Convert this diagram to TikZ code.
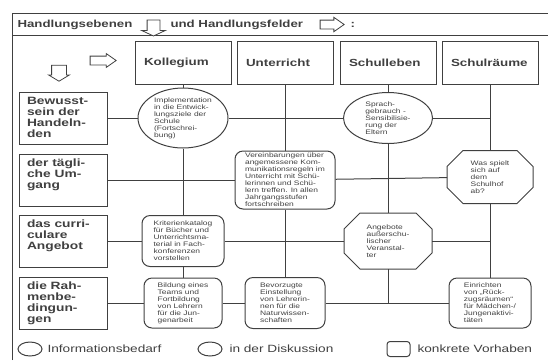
\documentclass[tikz,border=0pt]{standalone}
\usepackage{fontspec}
\setmainfont[FakeStretch=1.3]{Liberation Sans}
\usetikzlibrary{shapes.geometric,shapes.arrows}

\newcommand{\ebenentext}[1]{\parbox[c][42pt][t]{72pt}{#1}}

\begin{document}
\begin{tikzpicture} [x=1pt, y=-1pt, color=black!75, line width=1pt,
  every node/.style={inner sep=0pt},
  feld/.style={draw, minimum height=43pt, text width=78pt, inner xsep=9pt, align=left, font=\fontsize{10.3}{12}\selectfont\bfseries},
  ebene/.style={draw, inner xsep=8pt, inner ysep=5pt, font=\fontsize{10.6}{11}\selectfont\bfseries},
  info/.style={draw, ellipse, align=left, font=\fontsize{6.5}{7}\selectfont},
  disk/.style={rectangle, align=left, font=\fontsize{6.5}{7}\selectfont},
  vorhaben/.style={draw, rounded corners=8pt, align=left, font=\fontsize{6.5}{7}\selectfont},
  pfeil/.style={draw, single arrow, fill=white, line width=0.8pt, inner xsep=0pt},
  legende/.style={anchor=west, font=\fontsize{10.5}{12}\selectfont}]
\useasboundingbox (0,0) rectangle (548,360);

% Rahmen
\draw (12,360) -- (12,13) -- (548,13);
\draw (12,35) -- (548,35);

\node[anchor=west, font=\fontsize{10.2}{12}\selectfont\bfseries] (titel1) at (17,25) {Handlungsebenen};
\node[pfeil, rotate=-90, minimum height=16pt, inner ysep=6pt, single arrow head extend=5.5pt, single arrow tip angle=130] (pf1) at (153.5,26.5) {};
\node[anchor=west, font=\fontsize{10.2}{12}\selectfont\bfseries] (titel2) at (170,25) {und Handlungsfelder};
\node[pfeil, minimum height=24pt, inner ysep=4pt, single arrow head extend=2.8pt, single arrow tip angle=70] (pf2) at (329,24.5) {};
\node[anchor=west, font=\fontsize{10.2}{12}\selectfont\bfseries] (titel3) at (350,25) {:};

\node[pfeil, rotate=-90, minimum height=16pt, inner ysep=7pt, single arrow head extend=3pt, single arrow tip angle=118] (pf3) at (59,71) {};
\node[pfeil, minimum height=26pt, inner ysep=4pt, single arrow head extend=2.5pt, single arrow tip angle=70] (pf4) at (100,60.5) {};

% Handlungsfelder
\node[feld] (kol) at (183,62.5) {Kollegium};
\node[feld] (unt) at (285,62.5) {Unterricht};
\node[feld] (sle) at (388,62.5) {Schulleben};
\node[feld] (sra) at (490,62.5) {Schulräume};

% Handlungsebenen
\node[ebene] (bew) at (63,118) {\ebenentext{Bewusst-\\sein der\\Handeln-\\den}};
\node[ebene] (umg) at (63,180) {\ebenentext{der tägli-\\che Um-\\gang}};
\node[ebene] (cur) at (63,241) {\ebenentext{das curri-\\culare\\Angebot}};
\node[ebene] (rah) at (63,303) {\ebenentext{die Rah-\\menbe-\\dingun-\\gen}};

% Vorhaben
\node[info, minimum width=90pt, minimum height=60pt] (impl) at (183,118) {Implementation\\in die Entwick-\\lungsziele der\\Schule\\(Fortschrei-\\bung)};
\node[info, minimum width=89pt, minimum height=51pt] (sprach) at (388,118) {Sprach-\\gebrauch -\\Sensibilisie-\\rung der\\Eltern};

\node[vorhaben, minimum width=100pt, minimum height=58pt] (ver) at (285,180) {Vereinbarungen über\\angemessene Kom-\\munikationsregeln im\\Unterricht mit Schü-\\lerinnen und Schü-\\lern treffen. In allen\\Jahrgangsstufen\\fortschreiben};
\node[disk, minimum width=85pt, minimum height=52pt] (was) at (490,177) {Was spielt\\sich auf\\dem\\Schulhof\\ab?};

\node[vorhaben, minimum width=82pt, minimum height=51pt] (krit) at (183,241) {Kriterienkatalog\\für Bücher und\\Unterrichtsma-\\terial in Fach-\\konferenzen\\vorstellen};
\node[disk, minimum width=87pt, minimum height=55pt] (ang) at (388,241) {Angebote\\außerschu-\\lischer\\Veranstal-\\ter};

\node[vorhaben, minimum width=78pt, minimum height=50pt] (bild) at (183,303) {Bildung eines\\Teams und\\Fortbildung\\von Lehrern\\für die Jun-\\genarbeit};
\node[vorhaben, minimum width=80pt, minimum height=51pt] (bev) at (285,303) {Bevorzugte\\Einstellung\\von Lehrerin-\\nen für die\\Naturwissen-\\schaften};
\node[vorhaben, minimum width=82pt, minimum height=50pt] (ein) at (490,303) {Einrichten\\von „Rück-\\zugsräumen“\\für Mädchen-/\\Jungenaktivi-\\täten};

% Achtecke
\foreach \n in {was,ang}
\draw ([xshift=16pt]\n.north west) -- ([xshift=-16pt]\n.north east) -- ([yshift=-16pt]\n.north east) -- ([yshift=16pt]\n.south east) -- ([xshift=-16pt]\n.south east) -- ([xshift=16pt]\n.south west) -- ([yshift=16pt]\n.south west) -- ([yshift=-16pt]\n.north west) -- cycle;

\coordinate (j1) at (490,118);
\coordinate (j3) at (490,241);
\coordinate (j4) at (388,303);

\foreach \von/\nach in {kol/impl,impl/krit,krit/bild,unt/ver,ver/bev,sle/sprach,sprach/ang,ang/j4,sra/was,was/ein,bew/impl,impl/sprach,sprach/j1,umg/ver,ver/was,cur/krit,krit/ang,ang/j3,rah/bild,bild/bev,bev/ein}
\draw (\von) -- (\nach);

% Legende
\node[draw, ellipse, minimum width=24pt, minimum height=14pt] (leg1) at (30,349) {};
\node[legende] (legt1) at (47,349) {Informationsbedarf};
\node[draw, ellipse, minimum width=24pt, minimum height=14pt] (leg2) at (210,349) {};
\node[legende] (legt2) at (229,349) {in der Diskussion};
\node[draw, rounded corners=3pt, minimum width=23pt, minimum height=15pt] (leg3) at (398.5,349) {};
\node[legende] (legt3) at (417,349) {konkrete Vorhaben};

\end{tikzpicture}
\end{document}
